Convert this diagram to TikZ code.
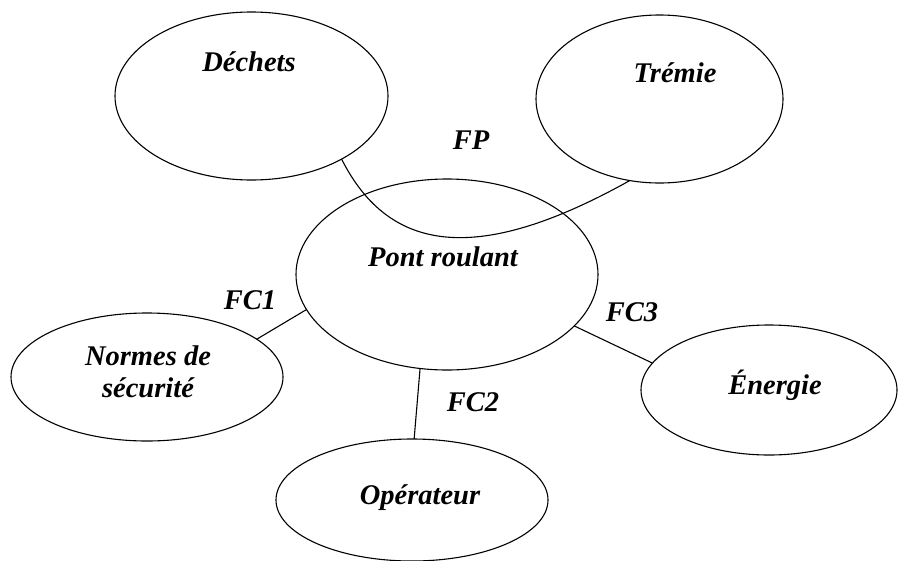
\documentclass[tikz,border=0pt]{standalone}
\usepackage{fontspec}
\setmainfont{Liberation Serif}
\usetikzlibrary{shapes.geometric}
\begin{document}
\begin{tikzpicture}[x=1pt,y=-1pt,
  bubble/.style={draw, ellipse, line width=1.1pt, inner sep=0pt, outer sep=0pt},
  lbl/.style={font=\fontsize{28.5}{32}\selectfont\bfseries\itshape, inner sep=0pt, align=center},
  link/.style={line width=1.1pt}]
\useasboundingbox (0,0) rectangle (907,560);
% ellipses
\node[bubble, minimum width=273pt, minimum height=168pt] (dechets) at (251.5,96) {};
\node[bubble, minimum width=247pt, minimum height=168pt] (tremie) at (659.5,99) {};
\node[bubble, minimum width=302pt, minimum height=191pt] (pont) at (447,274.5) {};
\node[bubble, minimum width=272pt, minimum height=128pt] (normes) at (147,377) {};
\node[bubble, minimum width=256pt, minimum height=130pt] (energie) at (769,390) {};
\node[bubble, minimum width=272pt, minimum height=122pt] (operateur) at (412,500) {};
% texts
\node[lbl] (tdechets) at (249,62) {Déchets};
\node[lbl] (ttremie) at (675,73) {Trémie};
\node[lbl] (tpont) at (443,257) {Pont roulant};
\node[lbl] (tnormes) at (148,372) {Normes de\\sécurité};
\node[lbl] (tenergie) at (775,385) {Énergie};
\node[lbl] (toperateur) at (420,498) {Opérateur};
% connectors
\draw[link] (dechets.325.4) .. controls (390,255) and (480,264.2) .. (tremie.250.4);
\draw[link] (pont.194.5) -- (normes.19.8);
\draw[link] (pont.254.1) -- (operateur.88.8);
\draw[link] (pont.338.1) -- (energie.167.2);
% function labels
\node[lbl] (fp) at (471,140) {FP};
\node[lbl] (fc1) at (250,300) {FC1};
\node[lbl] (fc2) at (473,402) {FC2};
\node[lbl] (fc3) at (632,312) {FC3};
\end{tikzpicture}
\end{document}
